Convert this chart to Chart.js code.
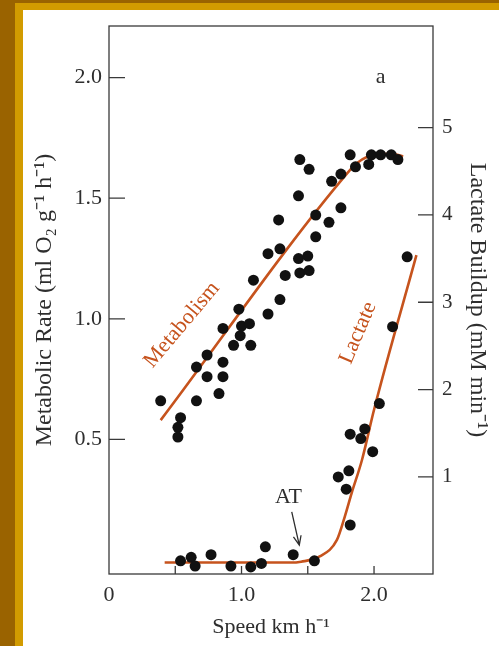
<!DOCTYPE html>
<html>
<head>
<meta charset="utf-8">
<script src="https://cdn.jsdelivr.net/npm/chart.js@4.4.0/dist/chart.umd.min.js"></script>
<style>
  html, body { margin: 0; padding: 0; background: #fff; }
  #wrap { position: relative; width: 499px; height: 646px; overflow: hidden; }
  .band { position: absolute; }
</style>
</head>
<body>
<div id="wrap">
  <canvas id="speedChart" width="499" height="646"></canvas>
  <div class="band" style="left:0;top:0;width:15px;height:646px;background:#9a6300"></div>
  <div class="band" style="left:0;top:0;width:499px;height:3px;background:#9a6300"></div>
  <div class="band" style="left:15px;top:3px;width:8px;height:643px;background:#d29b00"></div>
  <div class="band" style="left:15px;top:3px;width:484px;height:7px;background:#d29b00"></div>
</div>
<script>
// metabolic rate points (speed km/h, ml O2 g-1 h-1)
var metSpeed = [0.39, 0.54, 0.52, 0.52, 0.66, 0.66, 0.74, 0.74, 0.86, 0.86, 0.83, 0.86, 0.94, 0.99, 1.00,
                1.06, 1.07, 0.98, 1.09, 1.20, 1.29, 1.33, 1.44, 1.51, 1.20, 1.29, 1.28, 1.43, 1.50, 1.43,
                1.44, 1.51, 1.56, 1.56, 1.66, 1.68, 1.75, 1.75, 1.82, 1.86, 1.96, 1.98, 2.05, 2.13, 2.18];
var metRate = [0.66, 0.59, 0.55, 0.51, 0.66, 0.80, 0.85, 0.76, 0.82, 0.76, 0.69, 0.96, 0.89, 0.93, 0.97,
               0.98, 0.89, 1.04, 1.16, 1.02, 1.08, 1.18, 1.19, 1.20, 1.27, 1.29, 1.41, 1.25, 1.26, 1.51,
               1.66, 1.62, 1.43, 1.34, 1.40, 1.57, 1.60, 1.46, 1.68, 1.63, 1.64, 1.68, 1.68, 1.68, 1.66];

// lactate buildup points (speed km/h, mM min-1)
var lacSpeed = [0.54, 0.62, 0.65, 0.77, 0.92, 1.07, 1.15, 1.18, 1.39, 1.55, 1.82,
                1.73, 1.81, 1.79, 1.82, 1.90, 1.93, 1.99, 2.04, 2.14, 2.25];
var lacRate = [0.04, 0.08, -0.02, 0.11, -0.02, -0.03, 0.01, 0.20, 0.11, 0.04, 0.45,
               1.00, 1.07, 0.86, 1.49, 1.44, 1.55, 1.29, 1.84, 2.72, 3.52];

// fitted curves
var metFitSpeed = [0.39, 1.80, 1.87, 1.95, 2.05, 2.15, 2.22];
var metFitRate = [0.58, 1.605, 1.645, 1.672, 1.684, 1.683, 1.673];
var lacFitSpeed = [0.42, 1.37, 1.45, 1.59, 1.72, 1.78, 1.83, 1.91, 2.00, 2.32];
var lacFitRate = [0.02, 0.02, 0.03, 0.09, 0.28, 0.55, 0.81, 1.20, 1.77, 3.54];

// ticks
var speedTicks = [0, 0.5, 1.0, 1.5, 2.0];
var speedTickLabels = ['0', '', '1.0', '', '2.0'];
var metTicks = [0.5, 1.0, 1.5, 2.0];
var lacTicks = [1, 2, 3, 4, 5];

var ORANGE = '#c6531d';
var INK = '#2e2e2e';
var SERIF = 'Liberation Serif, Times New Roman, serif';

function pts(xs, ys) {
    return xs.map(function (x, i) { return { x: x, y: ys[i] }; });
}

var frameAndNotes = {
    id: 'frameAndNotes',
    afterDraw: function (chart) {
        var ctx = chart.ctx, a = chart.chartArea;
        var sx = chart.scales.x, sy = chart.scales.y, sl = chart.scales.y2;
        ctx.save();
        ctx.strokeStyle = '#3a3a3a';
        ctx.lineWidth = 1.3;
        ctx.strokeRect(a.left, a.top, a.right - a.left, a.bottom - a.top);
        ctx.beginPath();
        metTicks.forEach(function (v) {
            var p = sy.getPixelForValue(v);
            ctx.moveTo(a.left, p); ctx.lineTo(a.left + 16, p);
        });
        lacTicks.forEach(function (v) {
            var p = sl.getPixelForValue(v);
            ctx.moveTo(a.right, p); ctx.lineTo(a.right - 15, p);
        });
        speedTicks.forEach(function (v) {
            if (v === 0) return;
            var p = sx.getPixelForValue(v);
            ctx.moveTo(p, a.bottom); ctx.lineTo(p, a.bottom - 8);
        });
        ctx.stroke();

        // panel letter
        ctx.fillStyle = INK;
        ctx.font = '22px ' + SERIF;
        ctx.textAlign = 'center';
        ctx.textBaseline = 'middle';
        ctx.fillText('a', sx.getPixelForValue(2.05), sy.getPixelForValue(2.0));

        // curve labels
        ctx.fillStyle = ORANGE;
        ctx.save();
        ctx.translate(sx.getPixelForValue(0.55), sy.getPixelForValue(0.975));
        ctx.rotate(-50 * Math.PI / 180);
        ctx.fillText('Metabolism', 0, 0);
        ctx.restore();
        ctx.save();
        ctx.translate(sx.getPixelForValue(1.88), sl.getPixelForValue(2.65));
        ctx.rotate(-67 * Math.PI / 180);
        ctx.fillText('Lactate', 0, 0);
        ctx.restore();

        // anaerobic threshold
        ctx.fillStyle = INK;
        ctx.fillText('AT', sx.getPixelForValue(1.355), sl.getPixelForValue(0.77));
        var x0 = sx.getPixelForValue(1.379), y0 = sl.getPixelForValue(0.60);
        var x1 = sx.getPixelForValue(1.436), y1 = sl.getPixelForValue(0.22);
        var ang = Math.atan2(y1 - y0, x1 - x0);
        ctx.strokeStyle = INK;
        ctx.lineWidth = 1.3;
        ctx.beginPath();
        ctx.moveTo(x0, y0); ctx.lineTo(x1, y1);
        ctx.moveTo(x1 - 10 * Math.cos(ang - 0.4), y1 - 10 * Math.sin(ang - 0.4));
        ctx.lineTo(x1, y1);
        ctx.lineTo(x1 - 10 * Math.cos(ang + 0.4), y1 - 10 * Math.sin(ang + 0.4));
        ctx.stroke();
        ctx.restore();
    }
};

var ctx = document.getElementById('speedChart').getContext('2d');
window.speedChart = new Chart(ctx, {
    type: 'scatter',
    data: {
        datasets: [{
            label: 'Metabolic rate',
            data: pts(metSpeed, metRate),
            yAxisID: 'y',
            backgroundColor: '#111',
            borderWidth: 0,
            pointRadius: 5.5
        }, {
            label: 'Lactate',
            data: pts(lacSpeed, lacRate),
            yAxisID: 'y2',
            backgroundColor: '#111',
            borderWidth: 0,
            pointRadius: 5.5
        }, {
            type: 'line',
            label: 'Metabolism fit',
            data: pts(metFitSpeed, metFitRate),
            yAxisID: 'y',
            borderColor: ORANGE,
            borderWidth: 2.6,
            pointRadius: 0,
            cubicInterpolationMode: 'monotone',
            fill: false
        }, {
            type: 'line',
            label: 'Lactate fit',
            data: pts(lacFitSpeed, lacFitRate),
            yAxisID: 'y2',
            borderColor: ORANGE,
            borderWidth: 2.6,
            pointRadius: 0,
            cubicInterpolationMode: 'monotone',
            fill: false
        }]
    },
    options: {
        responsive: false,
        animation: false,
        layout: { padding: { top: 26, left: 0, right: 0, bottom: 0 } },
        plugins: {
            legend: { display: false },
            tooltip: { enabled: false }
        },
        scales: {
            x: {
                type: 'linear',
                min: 0,
                max: 2.445,
                afterFit: function (s) { s.height = 72; },
                afterBuildTicks: function (s) { s.ticks = speedTicks.map(function (v) { return { value: v }; }); },
                grid: { display: false, drawTicks: false },
                border: { display: false },
                ticks: {
                    padding: 8,
                    autoSkip: false,
                    maxRotation: 0,
                    color: INK,
                    font: { family: SERIF, size: 22 },
                    callback: function (v, i) { return speedTickLabels[i]; }
                },
                title: {
                    display: true,
                    text: 'Speed km h\u207B\u00B9',
                    color: INK,
                    font: { family: SERIF, size: 22 },
                    padding: { top: 0, bottom: 6 }
                }
            },
            y: {
                type: 'linear',
                position: 'left',
                min: -0.058,
                max: 2.214,
                afterFit: function (s) { s.width = 109; },
                afterBuildTicks: function (s) { s.ticks = metTicks.map(function (v) { return { value: v }; }); },
                grid: { display: false, drawTicks: false },
                border: { display: false },
                ticks: {
                    padding: 7,
                    color: INK,
                    font: { family: SERIF, size: 22 },
                    callback: function (v) { return v.toFixed(1); }
                },
                title: {
                    display: true,
                    text: 'Metabolic Rate (ml O\u2082 g\u207B\u00B9 h\u207B\u00B9)',
                    color: INK,
                    font: { family: SERIF, size: 24 },
                    padding: { top: 30, bottom: 0 }
                }
            },
            y2: {
                type: 'linear',
                position: 'right',
                min: -0.111,
                max: 6.163,
                afterFit: function (s) { s.width = 66; },
                afterBuildTicks: function (s) { s.ticks = lacTicks.map(function (v) { return { value: v }; }); },
                grid: { display: false, drawTicks: false },
                border: { display: false },
                ticks: {
                    padding: 9,
                    color: INK,
                    font: { family: SERIF, size: 21 },
                    callback: function (v) { return String(v); }
                },
                title: {
                    display: true,
                    text: 'Lactate Buildup (mM min\u207B\u00B9)',
                    color: INK,
                    font: { family: SERIF, size: 24 },
                    padding: { top: 7, bottom: 0 }
                }
            }
        }
    },
    plugins: [frameAndNotes]
});
</script>
</body>
</html>
